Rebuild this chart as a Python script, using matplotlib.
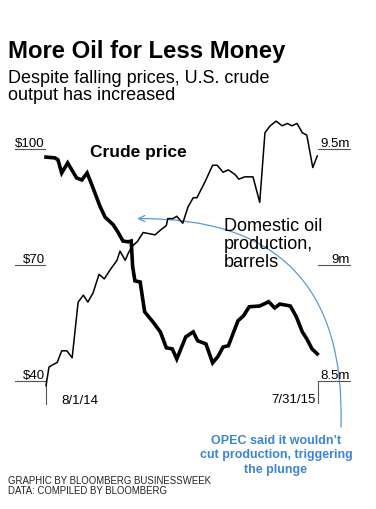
import matplotlib.pyplot as plt
import matplotlib.transforms as mtransforms
import pandas as pd

plt.rcParams['font.family'] = ['Liberation Sans', 'DejaVu Sans']

# Цена нефти (долл. за баррель)
price_dates = ['2014-08-01', '2014-08-13', '2014-08-17', '2014-08-22', '2014-08-30',
               '2014-09-11', '2014-09-18', '2014-09-25', '2014-10-02', '2014-10-12',
               '2014-10-19', '2014-10-30', '2014-11-05', '2014-11-12', '2014-11-19',
               '2014-11-23', '2014-11-25', '2014-11-28', '2014-12-05', '2014-12-11',
               '2014-12-22', '2015-01-01', '2015-01-09', '2015-01-17', '2015-01-23',
               '2015-02-04', '2015-02-14', '2015-02-20', '2015-03-03', '2015-03-12',
               '2015-03-19', '2015-03-26', '2015-04-02', '2015-04-15', '2015-04-22',
               '2015-04-30', '2015-05-14', '2015-05-26', '2015-06-03', '2015-06-10',
               '2015-06-24', '2015-07-02', '2015-07-10', '2015-07-16', '2015-07-23',
               '2015-07-30']
price_values = [97.9, 97.7, 97.2, 93.8, 96.4, 92.5, 92.0, 93.8, 90.4, 85.3,
                82.4, 80.4, 78.6, 76.2, 76.0, 76.2, 69.5, 65.9, 65.6, 57.9,
                55.3, 52.7, 48.6, 48.3, 45.7, 51.4, 52.7, 50.4, 49.6, 44.7,
                46.3, 48.8, 49.1, 55.6, 56.8, 59.2, 59.4, 60.5, 58.9, 59.9,
                59.4, 56.6, 52.7, 50.9, 48.3, 47.0]

# Добыча нефти в США (млн баррелей в день)
prod_dates = ['2014-08-01', '2014-08-05', '2014-08-10', '2014-08-16', '2014-08-22',
              '2014-08-29', '2014-09-05', '2014-09-13', '2014-09-20', '2014-09-26',
              '2014-10-03', '2014-10-11', '2014-10-18', '2014-10-26', '2014-11-04',
              '2014-11-08', '2014-11-15', '2014-11-19', '2014-11-24', '2014-12-01',
              '2014-12-09', '2014-12-25', '2015-01-01', '2015-01-09', '2015-01-11',
              '2015-01-18', '2015-01-23', '2015-01-31', '2015-02-07', '2015-02-14',
              '2015-02-19', '2015-03-02', '2015-03-12', '2015-03-18', '2015-03-26',
              '2015-04-02', '2015-04-11', '2015-04-16', '2015-04-24', '2015-05-05',
              '2015-05-14', '2015-05-21', '2015-05-28', '2015-06-05', '2015-06-13',
              '2015-06-20', '2015-06-26', '2015-07-03', '2015-07-10', '2015-07-16',
              '2015-07-24', '2015-07-30']
prod_values = [8.48, 8.56, 8.57, 8.58, 8.63, 8.63, 8.60, 8.84, 8.87, 8.84,
               8.88, 8.96, 8.94, 8.98, 9.02, 9.06, 9.02, 9.05, 9.08, 9.10,
               9.14, 9.13, 9.15, 9.17, 9.20, 9.20, 9.21, 9.18, 9.25, 9.29,
               9.29, 9.36, 9.43, 9.43, 9.40, 9.41, 9.39, 9.37, 9.38, 9.38,
               9.27, 9.57, 9.60, 9.62, 9.60, 9.61, 9.60, 9.61, 9.57, 9.56,
               9.42, 9.47]

price_ticks = [100, 70, 40]
price_tick_labels = ['$100', '$70', '$40']
prod_ticks = [9.5, 9.0, 8.5]
prod_tick_labels = ['9.5m', '9m', '8.5m']
start_date, end_date = '2014-08-01', '2015-07-31'
start_label, end_label = '8/1/14', '7/31/15'
opec_date, opec_level = '2014-12-01', 82

W, H = 376, 510
blue = '#3a86d4'
grey = '#555555'

fig = plt.figure(figsize=(W / 100, H / 100), dpi=100)
ax = fig.add_axes([46 / W, 1 - 382 / H, 272 / W, 232 / H])
ax2 = ax.twinx()


def ftext(x, y, s, **kw):
    # текст в пиксельных координатах фигуры (y сверху вниз)
    fig.text(x / W, 1 - y / H, s, va='baseline', **kw)


# Линии графика
ax.plot(pd.to_datetime(price_dates), price_values, color='black', lw=2.6,
        solid_joinstyle='miter', clip_on=False, zorder=3)
ax2.plot(pd.to_datetime(prod_dates), prod_values, color='black', lw=1.1,
         clip_on=False, zorder=3)

ax.set_xlim(pd.Timestamp(start_date), pd.Timestamp(end_date))
ax.set_ylim(40, 100)
ax2.set_ylim(8.5, 9.5)
ax.axis('off')
ax2.axis('off')

# Подписи осей с подчёркиваниями
lt = ax.get_yaxis_transform()
for v, lab in zip(price_ticks, price_tick_labels):
    ax.plot([-0.114, -0.004], [v, v], color=grey, lw=0.8, transform=lt, clip_on=False)
    ax.text(-0.004, v, lab, transform=mtransforms.offset_copy(lt, fig, y=2.5, units='dots'),
            ha='right', va='baseline', fontsize=9.5)

rt = ax2.get_yaxis_transform()
for v, lab in zip(prod_ticks, prod_tick_labels):
    ax2.plot([1.0, 1.1176], [v, v], color=grey, lw=0.8, transform=rt, clip_on=False)
    ax2.text(1.1176, v, lab, transform=mtransforms.offset_copy(rt, fig, y=2.5, units='dots'),
             ha='right', va='baseline', fontsize=9.5)

# Отметки дат
ax.plot([0, 0], [0, -0.1], color=grey, lw=0.8, transform=ax.transAxes, clip_on=False)
ax.plot([1, 1], [0, -0.095], color=grey, lw=0.8, transform=ax.transAxes, clip_on=False)
ax.text(0.055, -0.095, start_label, transform=ax.transAxes, ha='left', va='baseline', fontsize=9.5)
ax.text(0.99, -0.09, end_label, transform=ax.transAxes, ha='right', va='baseline', fontsize=9.5)

# Подписи серий
ftext(90, 157, 'Crude price', fontsize=12.5, fontweight='bold')
for i, line in enumerate(['Domestic oil', 'production,', 'barrels']):
    ftext(224, 231 + i * 18, line, fontsize=13)

# Стрелка OPEC
ax.annotate('', xy=(pd.Timestamp(opec_date), opec_level), xycoords='data',
            xytext=(341, H - 428), textcoords='figure pixels',
            arrowprops=dict(arrowstyle='->,head_length=0.45,head_width=0.22', color='#5a9bd8',
                            lw=0.9, connectionstyle='arc3,rad=0.52', shrinkA=0, shrinkB=0),
            annotation_clip=False)
for i, line in enumerate(["OPEC said it wouldn’t", 'cut production, triggering', 'the plunge']):
    ftext(276, 444 + i * 14.5, line, fontsize=9, fontweight='bold', color=blue, ha='center')

# Заголовки
ftext(8, 58, 'More Oil for Less Money', fontsize=17.2, fontweight='bold')
ftext(8, 83, 'Despite falling prices, U.S. crude', fontsize=13)
ftext(8, 100, 'output has increased', fontsize=13)

# Источник
ftext(8, 484, 'GRAPHIC BY BLOOMBERG BUSINESSWEEK', fontsize=6.9, color='#222222')
ftext(8, 494, 'DATA: COMPILED BY BLOOMBERG', fontsize=6.9, color='#222222')

plt.savefig('out.png', dpi=100)
